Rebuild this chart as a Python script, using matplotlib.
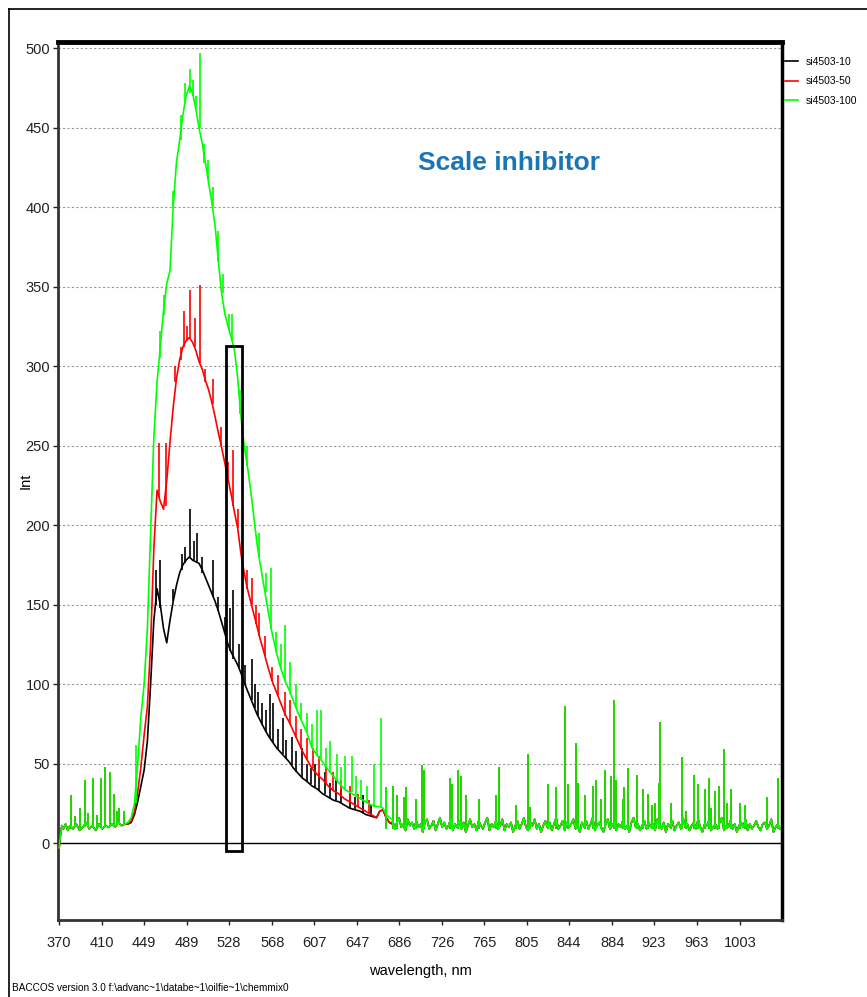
import numpy as np
import matplotlib.pyplot as plt
from matplotlib.lines import Line2D
from matplotlib.patches import Rectangle

plt.rcParams['font.family'] = ['Liberation Sans', 'DejaVu Sans']

# ---- data ----
labels = ["si4503-10", "si4503-50", "si4503-100"]
colors = ["black", "red", "#00ff00"]

# start of the spectrum, same for all three runs
wl_start = [370, 371, 372.5, 374, 376, 378, 380, 383, 386, 389, 392, 395, 398,
            401, 404, 407, 410, 413, 416, 419, 422, 425, 428, 431]
int_start = [-3, 4, 11, 9, 12, 8, 11, 9, 12, 8, 10, 13, 9,
             11, 8, 12, 9, 11, 10, 12, 10, 13, 11, 12]
spk_start_wl = [381, 385, 389, 394, 397, 401, 405, 409, 413, 417, 421, 424, 426, 430]
spk_start_lo = [9, 10, 9, 10, 10, 10, 10, 10, 11, 11, 10, 12, 12, 12]
spk_start_hi = [30, 17, 22, 40, 19, 41, 18, 41, 48, 45, 31, 20, 22, 20]

# main band 434-680 nm
wl_main = [434, 437, 440, 443, 446, 449, 452, 455, 458, 461, 464, 467, 470, 473,
           476, 479, 482, 485, 488, 491, 494, 497, 500, 503, 506, 509, 512, 515,
           518, 521, 524, 527, 530, 533, 536, 539, 542, 545, 548, 551, 554, 557,
           560, 564, 568, 572, 576, 580, 584, 588, 592, 596, 600, 605, 610, 615,
           620, 625, 630, 635, 640, 645, 650, 655, 660, 665, 668, 671, 674, 677, 680]
int_10 = [12, 13, 18, 26, 36, 46, 64, 100, 140, 160, 150, 135, 126, 140,
          152, 162, 170, 175, 178, 180, 178, 177, 176, 172, 167, 162, 157, 152,
          146, 139, 132, 125, 120, 116, 112, 107, 101, 96, 91, 86, 81, 77,
          73, 68, 64, 60, 57, 54, 51, 47, 44, 41, 39, 36, 34, 31,
          29, 27, 26, 24, 22, 21, 20, 18, 17, 16, 20, 21, 16, 13, 12]
int_50 = [12, 14, 20, 32, 48, 68, 86, 125, 185, 222, 215, 210, 228, 252,
          274, 292, 304, 312, 316, 318, 315, 310, 303, 298, 291, 285, 277, 268,
          258, 249, 239, 229, 219, 208, 198, 182, 170, 160, 152, 144, 136, 128,
          121, 111, 102, 95, 88, 81, 76, 70, 64, 58, 53, 47, 43, 40,
          36, 33, 31, 28, 26, 24, 22, 20, 18, 16, 20, 21, 16, 13, 12]
int_100 = [13, 16, 25, 50, 80, 100, 135, 195, 255, 290, 312, 335, 352, 360,
           400, 428, 442, 458, 470, 476, 472, 462, 450, 440, 428, 415, 403, 388,
           366, 346, 333, 325, 318, 310, 292, 268, 250, 237, 222, 205, 188, 175,
           163, 147, 132, 120, 110, 102, 96, 89, 82, 76, 70, 60, 55, 51,
           46, 42, 38, 34, 32, 30, 28, 26, 24, 23, 23, 22, 18, 16, 15]

# spikes on the main band (wavelength, foot, tip)
spk10_wl = [460, 464, 476, 484, 487, 492, 495, 498, 503, 513, 518, 524, 529, 532,
            537, 543, 549, 552, 555, 559, 562, 566, 569, 573, 578, 581, 586, 590,
            596, 600, 604, 608, 612, 617, 622, 627, 632, 640, 645, 652, 660]
spk10_lo = [150, 148, 152, 172, 176, 180, 178, 176, 170, 155, 146, 132, 121, 116,
            110, 100, 90, 85, 80, 74, 70, 66, 63, 59, 56, 53, 49, 45,
            41, 39, 37, 35, 33, 31, 28, 27, 25, 22, 21, 19, 17]
spk10_hi = [172, 178, 160, 182, 186, 210, 190, 195, 180, 178, 155, 142, 148, 159,
            125, 112, 116, 100, 95, 88, 84, 94, 88, 72, 79, 65, 67, 58,
            60, 50, 47, 50, 44, 45, 38, 40, 34, 32, 29, 30, 24]
spk50_wl = [463, 469, 478, 483, 486, 489, 492, 496, 501, 506, 513, 520, 527, 532,
            536, 545, 549, 553, 556, 561, 568, 573, 580, 585, 590, 595, 600, 606,
            612, 618, 625, 632, 640, 648, 658]
spk50_lo = [218, 212, 290, 304, 312, 316, 318, 312, 302, 290, 276, 250, 228, 212,
            198, 160, 150, 138, 130, 118, 102, 93, 80, 75, 66, 59, 52, 47,
            41, 38, 33, 30, 26, 23, 19]
spk50_hi = [252, 252, 300, 312, 335, 325, 348, 330, 351, 298, 292, 262, 240, 247,
            210, 172, 167, 150, 145, 130, 111, 106, 95, 90, 80, 72, 66, 60,
            55, 48, 45, 40, 36, 31, 27]
spk100_wl = [441.5, 463.5, 467, 476, 483, 487, 492, 494.5, 497, 501, 505, 508,
             513, 518, 522, 528, 531, 538, 545, 556, 562, 567, 572, 576, 580,
             585, 590, 595, 600, 605, 610, 613, 618, 622, 628, 632, 636, 642,
             646, 651, 656, 663, 669, 674]
spk100_lo = [25, 305, 332, 400, 442, 466, 472, 470, 462, 450, 428, 418,
             400, 366, 346, 322, 316, 270, 237, 180, 158, 135, 120, 110, 102,
             94, 85, 78, 70, 60, 55, 53, 48, 44, 40, 36, 34, 32,
             30, 27, 26, 23, 23, 18]
spk100_hi = [62, 322, 345, 410, 458, 478, 487, 480, 470, 497, 440, 430,
             413, 385, 358, 333, 333, 285, 250, 195, 170, 173, 133, 125, 137,
             114, 100, 88, 82, 75, 84, 84, 60, 64, 56, 48, 55, 55,
             42, 40, 36, 50, 79, 35]

# flat noisy tail 680-1040 nm, same for all three runs
wl_tail = np.arange(680, 1041, 2)
int_tail = [14, 9, 13, 16, 10, 12, 8, 15, 11, 13,
            9, 14, 10, 12, 7, 13, 15, 9, 11, 14,
            8, 12, 16, 10, 13, 9, 11, 15, 8, 12,
            10, 14, 9, 13, 7, 11, 15, 10, 12, 8,
            14, 11, 9, 13, 16, 8, 12, 10, 14, 9,
            11, 15, 8, 12, 10, 13, 7, 11, 14, 9,
            12, 16, 10, 8, 13, 11, 15, 9, 12, 7,
            11, 14, 10, 13, 8, 12, 16, 9, 11, 14,
            8, 13, 10, 12, 15, 9, 11, 7, 13, 10,
            14, 9, 12, 16, 8, 11, 13, 10, 7, 12,
            15, 9, 11, 13, 8, 12, 10, 14, 9, 11,
            7, 13, 16, 10, 12, 8, 11, 14, 9, 13,
            10, 12, 8, 15, 11, 9, 13, 7, 12, 10,
            14, 8, 11, 13, 9, 16, 10, 12, 8, 11,
            13, 9, 15, 10, 7, 12, 11, 14, 8, 10,
            12, 9, 13, 16, 8, 11, 10, 14, 9, 12,
            7, 11, 13, 10, 15, 8, 12, 9, 11, 14,
            10, 8, 12, 13, 9, 11, 15, 7, 10, 12,
            9]
spk_tail_wl = [674, 680, 684, 690.7, 692.5, 702, 707, 709, 733.5, 735, 741, 744,
               748, 760, 776, 779, 795, 806, 808, 824, 832, 840, 843, 850.5, 852,
               859, 866, 869, 874, 877.5, 883, 886, 888, 894, 895, 899, 907, 912.6,
               917, 921, 924, 928, 929, 939, 948.6, 953, 960.6, 963.8, 970.6,
               973.7, 976, 980, 983.5, 988, 990.5, 995, 1003, 1007.6, 1028, 1038]
spk_tail_hi = [35, 36, 30, 29, 35, 28, 49, 46, 41, 37, 46, 42,
               30, 28, 30, 48, 24, 56, 23, 37, 35, 86, 37, 63, 38,
               30, 36, 40, 28, 46, 42, 90, 40, 28, 35, 47, 43, 34,
               31, 24, 25, 38, 76, 25, 54, 20, 43, 37, 34,
               41, 22, 33, 36, 59, 25, 34, 25, 24, 29, 41]

y_ticks = [0, 50, 100, 150, 200, 250, 300, 350, 400, 450, 500]
x_ticks = [370, 410, 449, 489, 528, 568, 607, 647, 686, 726, 765, 805, 844,
           884, 923, 963, 1003]

# marked window on the plot
box_x = (525.2, 540.1)
box_y = (-5, 312.5)

# ---- figure ----
fig = plt.figure(figsize=(8.67, 9.97), dpi=100)
ax = fig.add_axes([0.067, 0.077, 0.835, 0.881])

series = [(int_10, spk10_wl, spk10_lo, spk10_hi),
          (int_50, spk50_wl, spk50_lo, spk50_hi),
          (int_100, spk100_wl, spk100_lo, spk100_hi)]

for (vals, swl, slo, shi), c, lab in zip(series, colors, labels):
    wl = np.concatenate([wl_start, wl_main, wl_tail])
    iv = np.concatenate([int_start, vals, int_tail])
    ax.plot(wl, iv, color=c, lw=1.2, label=lab, zorder=3)
    ax.vlines(swl, slo, shi, color=c, lw=1.2, zorder=3)
    ax.vlines(spk_start_wl, spk_start_lo, spk_start_hi, color=c, lw=1.2, zorder=3)
    ax.vlines(spk_tail_wl, 9, spk_tail_hi, color=c, lw=1.2, zorder=3)

ax.axhline(0, color="black", lw=1, zorder=2)
ax.add_patch(Rectangle((box_x[0], box_y[0]), box_x[1] - box_x[0], box_y[1] - box_y[0],
                       fill=False, ec="black", lw=2, zorder=4))

ax.set_xlim(369, 1042)
ax.set_ylim(-48.5, 504)
ax.set_yticks(y_ticks)
ax.set_xticks(x_ticks)
ax.set_xticklabels([str(t) for t in x_ticks])
ax.tick_params(direction="out", length=3.6, width=1, labelsize=10.5, colors="#222222")
ax.tick_params(axis="x", pad=7.4)
ax.tick_params(axis="y", pad=2.2)
ax.yaxis.grid(True, ls=(0, (2, 2)), color="#999999", lw=0.8)
ax.set_axisbelow(True)

ax.spines["top"].set_linewidth(3.5)
ax.spines["right"].set_linewidth(2.5)
ax.spines["left"].set_linewidth(2)
ax.spines["bottom"].set_linewidth(2)
ax.spines["left"].set_color("#333333")
ax.spines["bottom"].set_color("#333333")

ax.set_ylabel("Int", fontsize=10.5)
ax.yaxis.set_label_coords(-0.035, 0.5)
ax.set_xlabel("wavelength, nm", fontsize=10.5)
ax.xaxis.set_label_coords(0.5, -0.05)

ax.text(0.623, 0.862, "Scale inhibitor", transform=ax.transAxes, ha="center",
        va="center", fontsize=19, fontweight="bold", color="#1a75b5")

fig.legend(loc="upper left", bbox_to_anchor=(785 / 867, 1 - 57 / 997), frameon=False,
           fontsize=7.5, handlelength=1.25, handletextpad=0.75, labelspacing=0.9,
           borderpad=0, borderaxespad=0)

fig.text(12 / 867, 0.004, r"BACCOS version 3.0 f:\advanc~1\databe~1\oilfie~1\chemmix0",
         fontsize=7.2, va="bottom", ha="left")

# frame round the sheet (top and left edge)
fig.add_artist(Line2D([9 / 867, 1], [1 - 9 / 997, 1 - 9 / 997], color="black", lw=1.2))
fig.add_artist(Line2D([9 / 867, 9 / 867], [0, 1 - 9 / 997], color="black", lw=1.2))

fig.savefig("out.png", dpi=100)
